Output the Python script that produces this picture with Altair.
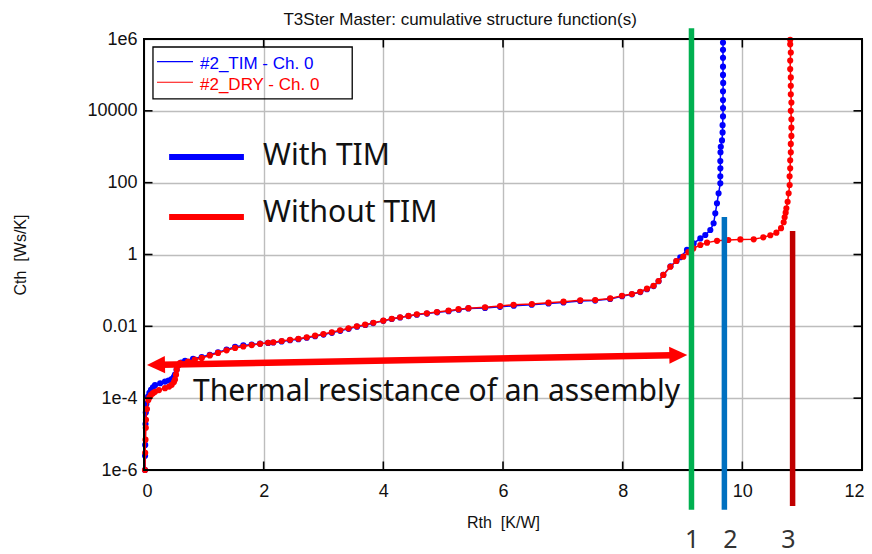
import math
import altair as alt
import pandas as pd

# ---------------- text ----------------
TITLE = "T3Ster Master: cumulative structure function(s)"
X_TITLE = "Rth\u00a0\u00a0[K/W]"
Y_TITLE = "Cth\u00a0\u00a0[Ws/K]"
X_TICKS = [0, 2, 4, 6, 8, 10, 12]
Y_TICKS = [1e-6, 1e-4, 1e-2, 1, 100, 1e4, 1e6]
Y_TICK_LABELS = ["1e-6", "1e-4", "0.01", "1", "100", "10000", "1e6"]

SERIES_NAMES = ["#2_TIM - Ch. 0", "#2_DRY - Ch. 0"]
SERIES_COLORS = ["#0000FF", "#FF0000"]
BIG_LEGEND = ["With TIM", "Without TIM"]
ARROW_TEXT = "Thermal resistance of an assembly"

# ---------------- data: cumulative structure functions ----------------
TIM_RTH = [0.017, 0.018, 0.02, 0.025, 0.03, 0.04, 0.067, 0.09, 0.117, 0.15, 0.184, 0.27,
           0.351, 0.41, 0.463, 0.5, 0.518, 0.545, 0.569, 0.62, 0.686, 0.82, 0.965, 1.1,
           1.237, 1.38, 1.522, 1.66, 1.80, 1.94, 2.074, 2.16, 2.30, 2.44, 2.58, 2.72,
           2.86, 3.0, 3.14, 3.28, 3.42, 3.56, 3.70, 3.83, 4.0, 4.14, 4.28, 4.42, 4.56,
           4.73, 4.90, 5.09, 5.26, 5.42, 5.70, 5.95, 6.18, 6.48, 6.76, 7.01, 7.29, 7.54,
           7.79, 7.99, 8.155, 8.294, 8.406, 8.517, 8.6, 8.68, 8.80, 8.90, 8.963, 9.075,
           9.186, 9.298, 9.381, 9.465, 9.52, 9.548, 9.576, 9.603, 9.632, 9.632, 9.633,
           9.632, 9.635, 9.64, 9.66, 9.67, 9.67, 9.677, 9.677, 9.677, 9.677, 9.68, 9.677,
           9.677, 9.677, 9.677, 9.677]
TIM_CTH = [1.0e-6, 2.5e-6, 5.0e-6, 1.9e-5, 4.0e-5, 6.9e-5, 1.1e-4, 1.4e-4, 1.7e-4, 2.0e-4,
           2.3e-4, 2.6e-4, 2.9e-4, 3.1e-4, 3.4e-4, 3.9e-4, 4.5e-4, 6.2e-4, 8.3e-4, 9.8e-4,
           1.1e-3, 1.25e-3, 1.4e-3, 1.62e-3, 1.9e-3, 2.25e-3, 2.7e-3, 2.95e-3, 3.1e-3,
           3.3e-3, 3.45e-3, 3.55e-3, 3.8e-3, 4.1e-3, 4.4e-3, 4.8e-3, 5.3e-3, 5.9e-3, 6.6e-3,
           7.5e-3, 8.5e-3, 9.8e-3, 1.09e-2, 1.23e-2, 1.42e-2, 1.6e-2, 1.76e-2, 1.93e-2,
           2.1e-2, 2.27e-2, 2.45e-2, 2.65e-2, 2.9e-2, 3.15e-2, 3.25e-2, 3.5e-2, 3.75e-2,
           4.0e-2, 4.35e-2, 4.6e-2, 5.1e-2, 5.2e-2, 5.8e-2, 6.9e-2, 7.8e-2, 9.0e-2, 0.108,
           0.132, 0.18, 0.27, 0.47, 0.66, 0.84, 1.34, 2.04, 2.8, 3.5, 4.8, 7.4, 14, 26.7,
           50.6, 96, 150, 250, 400, 700, 1000, 1500, 2500, 4000, 7000, 1.2e4, 2.0e4, 3.5e4,
           6.0e4, 1.0e5, 1.7e5, 3.0e5, 5.0e5, 8.0e5]

DRY_RTH = [0.017, 0.02, 0.025, 0.03, 0.033, 0.05, 0.072, 0.09, 0.117, 0.15, 0.184, 0.25,
           0.351, 0.42, 0.463, 0.50, 0.518, 0.535, 0.547, 0.575, 0.602, 0.736, 0.85, 0.965,
           1.10, 1.237, 1.38, 1.522, 1.66, 1.80, 1.94, 2.074, 2.162, 2.302, 2.441, 2.581,
           2.72, 2.86, 2.998, 3.139, 3.278, 3.417, 3.557, 3.696, 3.834, 4.0, 4.142, 4.281,
           4.42, 4.56, 4.727, 4.895, 5.09, 5.256, 5.423, 5.70, 5.953, 6.176, 6.483, 6.761,
           7.012, 7.291, 7.542, 7.793, 7.988, 8.155, 8.294, 8.406, 8.517, 8.6, 8.679,
           8.796, 8.896, 9.013, 9.097, 9.18, 9.298, 9.41, 9.577, 9.766, 9.967, 10.19,
           10.35, 10.468, 10.569, 10.647, 10.691, 10.707, 10.724, 10.736, 10.757, 10.774,
           10.791, 10.79, 10.80, 10.80, 10.81, 10.81, 10.82, 10.82, 10.82, 10.81, 10.82,
           10.81, 10.81, 10.81, 10.80, 10.80, 10.81, 10.80, 10.80]
DRY_CTH = [1.0e-6, 3.0e-6, 7.0e-6, 1.5e-5, 2.5e-5, 5.0e-5, 8.9e-5, 1.05e-4, 1.23e-4,
           1.38e-4, 1.5e-4, 1.68e-4, 1.9e-4, 2.1e-4, 2.35e-4, 2.8e-4, 3.3e-4, 4.5e-4, 6.2e-4,
           8.3e-4, 9.5e-4, 1.05e-3, 1.18e-3, 1.32e-3, 1.55e-3, 1.82e-3, 2.15e-3, 2.5e-3,
           2.75e-3, 3.0e-3, 3.25e-3, 3.5e-3, 3.6e-3, 3.9e-3, 4.2e-3, 4.5e-3, 4.95e-3,
           5.5e-3, 6.1e-3, 6.8e-3, 7.8e-3, 8.8e-3, 1.0e-2, 1.11e-2, 1.26e-2, 1.44e-2,
           1.63e-2, 1.79e-2, 1.95e-2, 2.16e-2, 2.3e-2, 2.5e-2, 2.73e-2, 3.0e-2, 3.2e-2,
           3.39e-2, 3.69e-2, 4.0e-2, 4.19e-2, 4.56e-2, 4.86e-2, 5.3e-2, 5.4e-2, 6.0e-2,
           7.1e-2, 7.96e-2, 9.2e-2, 0.112, 0.135, 0.183, 0.27, 0.457, 0.66, 0.87, 1.17,
           1.48, 1.84, 2.14, 2.4, 2.54, 2.63, 2.65, 3.0, 3.43, 4.06, 5.4, 7.9, 10.9, 14.6,
           19.4, 29.5, 50.6, 86, 150, 250, 420, 700, 1200, 2000, 3400, 5800, 1.0e4, 1.7e4,
           2.9e4, 5.0e4, 8.5e4, 1.45e5, 2.5e5, 4.2e5, 7.1e5, 9.5e5]

# ---------------- annotations (data coordinates) ----------------
TITLE_POS = (5.284, 2.45e6)

MARK_LABELS = ["1", "2", "3"]
MARK_RTH = [9.15, 9.70, 10.84]
MARK_TOP = [2.0e6, 11.0, 4.5]
MARK_BOTTOM = [7.8e-8, 7.8e-8, 1.0e-7]
MARK_COLORS = ["#00B050", "#0070C0", "#C00000"]
MARK_LABEL_RTH = [9.16, 9.80, 10.77]
MARK_LABEL_CTH = [6.6e-9, 6.6e-9, 6.6e-9]

ARROW_TIP_RTH = [0.05, 9.08]
ARROW_TIP_CTH = [8.4e-4, 1.6e-3]
ARROW_SHAFT_RTH = [0.30, 8.83]
ARROW_SHAFT_CTH = [8.55e-4, 1.57e-3]
ARROW_TEXT_POS = (0.82, 8.4e-5)

BIG_LEG_X = [0.42, 1.67]
BIG_LEG_Y = [519.0, 11.1]
BIG_LEG_TEXT_X = 1.99
BIG_LEG_TEXT_Y = [310.0, 8.2]

SMALL_LEG_BOX = (0.15, 3.48, 2.14e4, 5.98e5)
SMALL_LEG_X = [0.217, 0.819]
SMALL_LEG_Y = [2.33e5, 6.24e4]
SMALL_LEG_TEXT_X = 0.936
SMALL_LEG_TEXT_Y = [1.43e5, 3.8e4]

# ---------------- scales / axes ----------------
XS = alt.Scale(domain=[X_TICKS[0], X_TICKS[-1]], nice=False, zero=False)
YS = alt.Scale(type="log", domain=[Y_TICKS[0], Y_TICKS[-1]], nice=False)

parts = []
for v, lab in zip(Y_TICKS, Y_TICK_LABELS):
    parts.append(f"abs(log(datum.value)/LN10 - ({round(math.log10(v))})) < 0.5 ? '{lab}'")
Y_LABEL_EXPR = " : ".join(parts) + " : ''"

AX_FONT = "Liberation Sans"
X_AXIS = alt.Axis(values=X_TICKS, grid=True, gridColor="#BDBDBD", gridWidth=1.4,
                  domain=False, ticks=False, labelFont=AX_FONT, labelFontSize=18,
                  labelColor="#111", labelPadding=12, labelFlush=True,
                  labelFlushOffset=2,
                  title=X_TITLE, titleFont=AX_FONT, titleFontSize=16,
                  titleFontWeight="normal", titleColor="#111",
                  titleBaseline="alphabetic", titleY=57)
Y_AXIS = alt.Axis(values=Y_TICKS, grid=True, gridColor="#BDBDBD", gridWidth=1.4,
                  domain=False, ticks=False, labelFont=AX_FONT, labelFontSize=18,
                  labelColor="#111", labelPadding=7, labelFlush=False,
                  labelExpr=Y_LABEL_EXPR,
                  title=Y_TITLE, titleFont=AX_FONT, titleFontSize=16,
                  titleFontWeight="normal", titleColor="#111",
                  titleBaseline="alphabetic", titleX=-119)


def xq(field="x"):
    return alt.X(f"{field}:Q", scale=XS, axis=X_AXIS)


def yq(field="y"):
    return alt.Y(f"{field}:Q", scale=YS, axis=Y_AXIS)


tim = pd.DataFrame({"x": TIM_RTH, "y": TIM_CTH, "i": range(len(TIM_RTH))})
dry = pd.DataFrame({"x": DRY_RTH, "y": DRY_CTH, "i": range(len(DRY_RTH))})

tim_layer = alt.Chart(tim).mark_line(
    color=SERIES_COLORS[0], strokeWidth=1.5,
    point=alt.OverlayMarkDef(filled=True, size=38, color=SERIES_COLORS[0], opacity=1)
).encode(x=xq(), y=yq(), order="i:Q")

dry_layer = alt.Chart(dry).mark_line(
    color=SERIES_COLORS[1], strokeWidth=1.5,
    point=alt.OverlayMarkDef(filled=True, size=38, color=SERIES_COLORS[1], opacity=1)
).encode(x=xq(), y=yq(), order="i:Q")

# plot frame (drawn over the grid lines at the domain edges)
frame = alt.Chart(pd.DataFrame({"x": [X_TICKS[0]], "x2": [X_TICKS[-1]],
                                "y": [Y_TICKS[0]], "y2": [Y_TICKS[-1]]})).mark_rect(
    fillOpacity=0, stroke="black", strokeWidth=2).encode(
    x=xq(), x2="x2:Q", y=yq(), y2="y2:Q")

# inward ticks on the frame (clipped to the plot)
inner_x = list(X_TICKS[1:-1])
inner_y = list(Y_TICKS[1:-1])
tx = pd.DataFrame({"x": inner_x * 2,
                   "y": [Y_TICKS[0]] * len(inner_x) + [Y_TICKS[-1]] * len(inner_x)})
ty = pd.DataFrame({"y": inner_y * 2,
                   "x": [X_TICKS[0]] * len(inner_y) + [X_TICKS[-1]] * len(inner_y)})
ticks_x = alt.Chart(tx).mark_tick(orient="vertical", size=17, thickness=1.6,
                                  color="black", clip=True, opacity=1).encode(x=xq(), y=yq())
ticks_y = alt.Chart(ty).mark_tick(orient="horizontal", size=17, thickness=1.6,
                                  color="black", clip=True, opacity=1).encode(x=xq(), y=yq())

# title as text
title_layer = alt.Chart(pd.DataFrame({"x": [TITLE_POS[0]], "y": [TITLE_POS[1]],
                                      "t": [TITLE]})).mark_text(
    font=AX_FONT, fontSize=17, color="#111", align="center", baseline="alphabetic"
).encode(x=xq(), y=yq(), text="t:N")

# vertical markers 1,2,3
mk = pd.DataFrame({"x": MARK_RTH, "y": MARK_BOTTOM, "y2": MARK_TOP, "c": MARK_COLORS})
markers = alt.Chart(mk).mark_rule(strokeWidth=5.5, clip=False).encode(
    x=xq(), y=yq(), y2="y2:Q", color=alt.Color("c:N", scale=None))
mkl = pd.DataFrame({"x": MARK_LABEL_RTH, "y": MARK_LABEL_CTH, "t": MARK_LABELS})
marker_labels = alt.Chart(mkl).mark_text(font="Noto Sans", fontSize=25, color="#333",
                                         baseline="alphabetic", align="center",
                                         clip=False).encode(x=xq(), y=yq(), text="t:N")

# arrow
shaft_df = pd.DataFrame({"x": [ARROW_SHAFT_RTH[0]], "x2": [ARROW_SHAFT_RTH[1]],
                         "y": [ARROW_SHAFT_CTH[0]], "y2": [ARROW_SHAFT_CTH[1]]})
shaft = alt.Chart(shaft_df).mark_rule(color="#FF0000", strokeWidth=6.5).encode(
    x=xq(), x2="x2:Q", y=yq(), y2="y2:Q")
head_l = alt.Chart(pd.DataFrame({"x": [ARROW_TIP_RTH[0]], "y": [ARROW_TIP_CTH[0]]})).mark_point(
    shape="M0,0L2,-0.95L2,0.95Z", size=324, filled=True, color="#FF0000", opacity=1,
    angle=358.9, strokeWidth=0).encode(x=xq(), y=yq())
head_r = alt.Chart(pd.DataFrame({"x": [ARROW_TIP_RTH[1]], "y": [ARROW_TIP_CTH[1]]})).mark_point(
    shape="M0,0L-2,-0.95L-2,0.95Z", size=324, filled=True, color="#FF0000", opacity=1,
    angle=358.9, strokeWidth=0).encode(x=xq(), y=yq())
arrow_text = alt.Chart(pd.DataFrame({"x": [ARROW_TEXT_POS[0]], "y": [ARROW_TEXT_POS[1]],
                                     "t": [ARROW_TEXT]})).mark_text(
    font="Noto Sans", fontSize=30, color="#111", align="left", baseline="alphabetic"
).encode(x=xq(), y=yq(), text="t:N")

# big legend
bl = pd.DataFrame({"x": [BIG_LEG_X[0]] * 2, "x2": [BIG_LEG_X[1]] * 2, "y": BIG_LEG_Y,
                   "c": ["#0000FF", "#FF0000"]})
big_lines = alt.Chart(bl).mark_rule(strokeWidth=6).encode(
    x=xq(), x2="x2:Q", y=yq(), color=alt.Color("c:N", scale=None))
bt = pd.DataFrame({"x": [BIG_LEG_TEXT_X] * 2, "y": BIG_LEG_TEXT_Y, "t": BIG_LEGEND})
big_text = alt.Chart(bt).mark_text(font="Noto Sans", fontSize=30, color="#111",
                                   align="left", baseline="alphabetic").encode(
    x=xq(), y=yq(), text="t:N")

# small legend
box = alt.Chart(pd.DataFrame({"x": [SMALL_LEG_BOX[0]], "x2": [SMALL_LEG_BOX[1]],
                              "y": [SMALL_LEG_BOX[2]], "y2": [SMALL_LEG_BOX[3]]})).mark_rect(
    fillOpacity=0, stroke="black", strokeWidth=1.3).encode(
    x=xq(), x2="x2:Q", y=yq(), y2="y2:Q")
sl = pd.DataFrame({"x": [SMALL_LEG_X[0]] * 2, "x2": [SMALL_LEG_X[1]] * 2, "y": SMALL_LEG_Y,
                   "c": SERIES_COLORS})
small_lines = alt.Chart(sl).mark_rule(strokeWidth=1.2).encode(
    x=xq(), x2="x2:Q", y=yq(), color=alt.Color("c:N", scale=None))
st = pd.DataFrame({"x": [SMALL_LEG_TEXT_X] * 2, "y": SMALL_LEG_TEXT_Y, "t": SERIES_NAMES,
                   "c": SERIES_COLORS})
small_text = alt.Chart(st).mark_text(font=AX_FONT, fontSize=17, align="left",
                                     baseline="alphabetic").encode(
    x=xq(), y=yq(), text="t:N", color=alt.Color("c:N", scale=None))

chart = alt.layer(
    tim_layer, dry_layer, frame, ticks_x, ticks_y, title_layer, markers, marker_labels,
    shaft, head_l, head_r, arrow_text, big_lines, big_text, box, small_lines, small_text
).properties(
    width=718, height=431,
    padding={"left": 136, "top": 31, "right": 2, "bottom": 84},
    autosize=alt.AutoSizeParams(type="none"),
    background="white",
).configure_view(stroke=None)

chart.save("out.html", embed_options={"renderer": "svg", "actions": False})
